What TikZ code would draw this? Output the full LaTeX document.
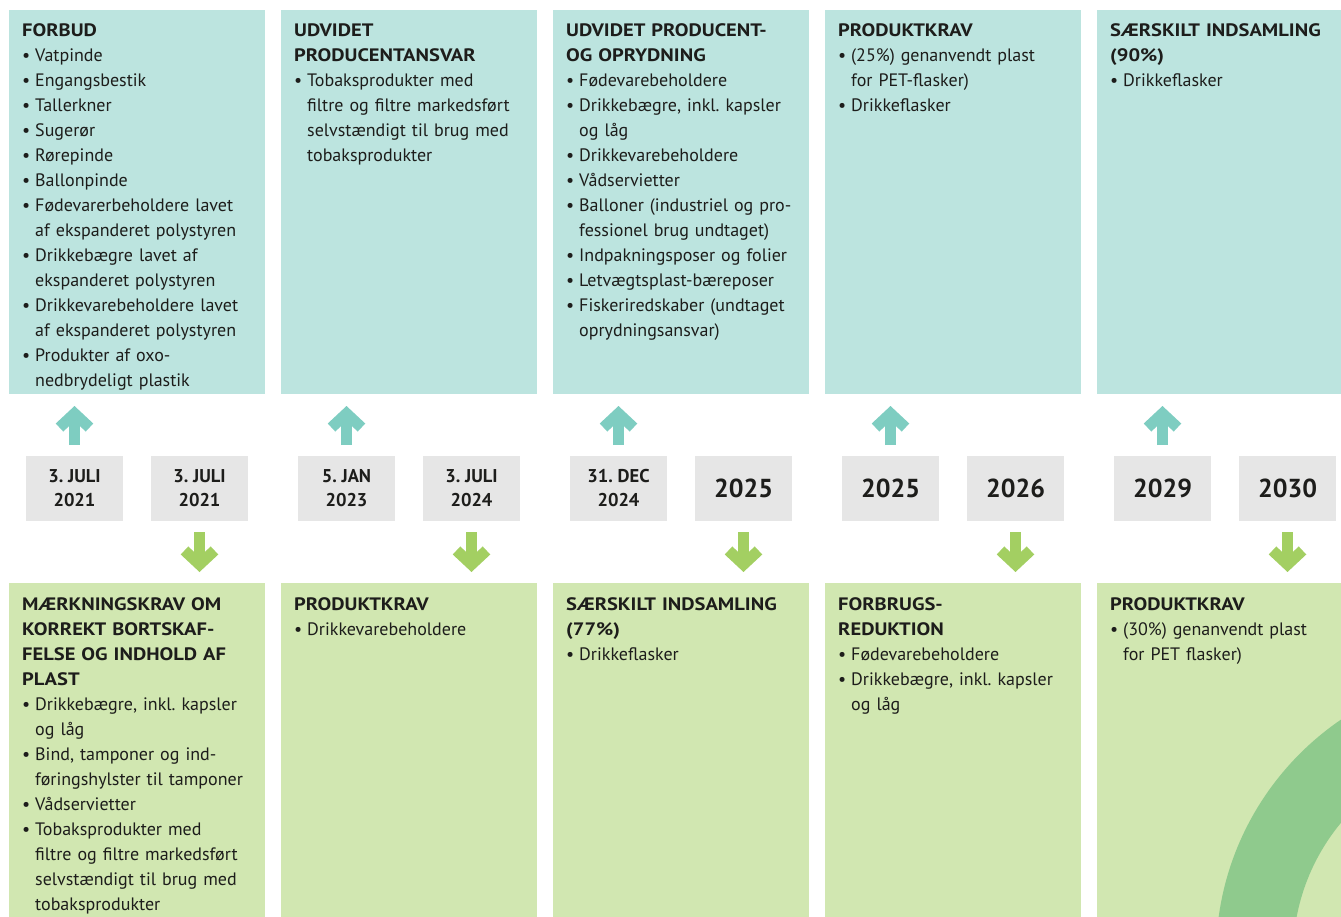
\documentclass[tikz,border=0pt]{standalone}
\usepackage{fontspec}
\setmainfont{PT Sans}
\newfontfamily\headfont[FakeStretch=1.14]{PT Sans}
\usetikzlibrary{positioning, arrows.meta}
\definecolor{topteal}{HTML}{BCE4DF}
\definecolor{botgreen}{HTML}{D1E7B1}
\definecolor{dategray}{HTML}{E6E6E6}
\definecolor{upteal}{HTML}{7ECDC1}
\definecolor{downgreen}{HTML}{A3CF62}
\definecolor{ringgreen}{HTML}{8FCA8D}
\definecolor{ink}{HTML}{1D1D1B}
\newcommand{\itm}{\par\noindent\makebox[13pt][l]{•}}
\newcommand{\cont}{\newline\hspace*{13pt}}
\newcommand{\hd}[1]{{\headfont\bfseries #1}}
\frenchspacing
\tikzset{
        panel/.style={rectangle, inner sep=0pt, outer sep=0pt, minimum width=256pt, anchor=north west},
        toppanel/.style={panel, fill=topteal, minimum height=384pt},
        botpanel/.style={panel, fill=botgreen, minimum height=340pt},
        datebox/.style={rectangle, fill=dategray, inner sep=0pt, outer sep=0pt, minimum width=97pt,
                minimum height=65pt, align=center, text=ink, font=\fontsize{18.5}{24}\selectfont\bfseries},
        bigyear/.style={datebox, font=\fontsize{26}{26}\selectfont\bfseries},
        txt/.style={anchor=base west, inner sep=0pt, text width=250pt, align=left, text=ink,
                font=\fontsize{18}{25}\selectfont\frenchspacing},
        uparr/.style={draw=upteal, line width=11pt, -{Straight Barb[length=14pt,width=30pt]},
                shorten <=11pt, shorten >=12pt},
        downarr/.style={draw=downgreen, line width=11pt, -{Straight Barb[length=14pt,width=30pt]},
                shorten <=11pt, shorten >=11pt}
        }

\begin{document}
\begin{tikzpicture}[x=1pt, y=-1pt]
        \useasboundingbox (0,0) rectangle (1341,917);
        % top row
        \node[toppanel] (top1) at (9,10) {};
        \node[toppanel, right=16pt of top1] (top2) {};
        \node[toppanel, right=16pt of top2] (top3) {};
        \node[toppanel, right=16pt of top3] (top4) {};
        \node[toppanel, right=16pt of top4] (top5) {};
        % bottom row
        \node[botpanel] (bot1) at (9,583) {};
        \node[botpanel, right=16pt of bot1] (bot2) {};
        \node[botpanel, right=16pt of bot2] (bot3) {};
        \node[botpanel, right=16pt of bot3] (bot4) {};
        \node[botpanel, right=16pt of bot4] (bot5) {};
        \begin{scope}
                \clip (bot5.north west) rectangle (bot5.south east);
                \draw[ringgreen, line width=77pt] (1502,956) circle[radius=247.5pt];
        \end{scope}
        % dates
        \node[datebox, anchor=north west] (d1) at ([shift={(17,62)}]top1.south west) {3. JULI\\2021};
        \node[datebox, right=28pt of d1] (d2) {3. JULI\\2021};
        \node[datebox, anchor=north west] (d3) at ([shift={(17,62)}]top2.south west) {5. JAN\\2023};
        \node[datebox, right=28pt of d3] (d4) {3. JULI\\2024};
        \node[datebox, anchor=north west] (d5) at ([shift={(17,62)}]top3.south west) {31. DEC\\2024};
        \node[bigyear, right=28pt of d5] (d6) {2025};
        \node[bigyear, anchor=north west] (d7) at ([shift={(17,62)}]top4.south west) {2025};
        \node[bigyear, right=28pt of d7] (d8) {2026};
        \node[bigyear, anchor=north west] (d9) at ([shift={(17,62)}]top5.south west) {2029};
        \node[bigyear, right=28pt of d9] (d10) {2030};
        % arrows
        \draw[uparr] (d1.north) -- (d1.north |- top1.south);
        \draw[uparr] (d3.north) -- (d3.north |- top2.south);
        \draw[uparr] (d5.north) -- (d5.north |- top3.south);
        \draw[uparr] (d7.north) -- (d7.north |- top4.south);
        \draw[uparr] (d9.north) -- (d9.north |- top5.south);
        \draw[downarr] (d2.south) -- (d2.south |- bot1.north);
        \draw[downarr] (d4.south) -- (d4.south |- bot2.north);
        \draw[downarr] (d6.south) -- (d6.south |- bot3.north);
        \draw[downarr] (d8.south) -- (d8.south |- bot4.north);
        \draw[downarr] (d10.south) -- (d10.south |- bot5.north);
        % texts
        \node[txt] (t1) at ([shift={(13,27)}]top1.north west) {\hd{FORBUD}
                \itm Vatpinde\itm Engangsbestik\itm Tallerkner\itm Sugerør\itm Rørepinde\itm Ballonpinde
                \itm Fødevarerbeholdere lavet\cont af ekspanderet polystyren
                \itm Drikkebægre lavet af\cont ekspanderet polystyren
                \itm Drikkevarebeholdere lavet\cont af ekspanderet polystyren
                \itm Produkter af oxo-\cont nedbrydeligt plastik};
        \node[txt] (t2) at ([shift={(13,27)}]top2.north west) {\hd{UDVIDET\\PRODUCENTANSVAR}
                \itm Tobaksprodukter med\cont filtre og filtre markedsført\cont selvstændigt til brug med\cont tobaksprodukter};
        \node[txt] (t3) at ([shift={(13,27)}]top3.north west) {\hd{UDVIDET PRODUCENT-\\OG OPRYDNING}
                \itm Fødevarebeholdere
                \itm Drikkebægre, inkl. kapsler\cont og låg
                \itm Drikkevarebeholdere
                \itm Vådservietter
                \itm Balloner (industriel og pro-\cont fessionel brug undtaget)
                \itm Indpakningsposer og folier
                \itm Letvægtsplast-bæreposer
                \itm Fiskeriredskaber (undtaget\cont oprydningsansvar)};
        \node[txt] (t4) at ([shift={(13,27)}]top4.north west) {\hd{PRODUKTKRAV}
                \itm (25\%) genanvendt plast\cont for PET-flasker)
                \itm Drikkeflasker};
        \node[txt] (t5) at ([shift={(13,27)}]top5.north west) {\hd{SÆRSKILT INDSAMLING\\(90\%)}
                \itm Drikkeflasker};
        \node[txt] (b1) at ([shift={(13,27)}]bot1.north west) {\hd{MÆRKNINGSKRAV OM\\KORREKT BORTSKAF-\\FELSE OG INDHOLD AF\\PLAST}
                \itm Drikkebægre, inkl. kapsler\cont og låg
                \itm Bind, tamponer og ind-\cont føringshylster til tamponer
                \itm Vådservietter
                \itm Tobaksprodukter med\cont filtre og filtre markedsført\cont selvstændigt til brug med\cont tobaksprodukter};
        \node[txt] (b2) at ([shift={(13,27)}]bot2.north west) {\hd{PRODUKTKRAV}
                \itm Drikkevarebeholdere};
        \node[txt] (b3) at ([shift={(13,27)}]bot3.north west) {\hd{SÆRSKILT INDSAMLING\\(77\%)}
                \itm Drikkeflasker};
        \node[txt] (b4) at ([shift={(13,27)}]bot4.north west) {\hd{FORBRUGS-\\REDUKTION}
                \itm Fødevarebeholdere
                \itm Drikkebægre, inkl. kapsler\cont og låg};
        \node[txt] (b5) at ([shift={(13,27)}]bot5.north west) {\hd{PRODUKTKRAV}
                \itm (30\%) genanvendt plast\cont for PET flasker)};
\end{tikzpicture}
\end{document}
